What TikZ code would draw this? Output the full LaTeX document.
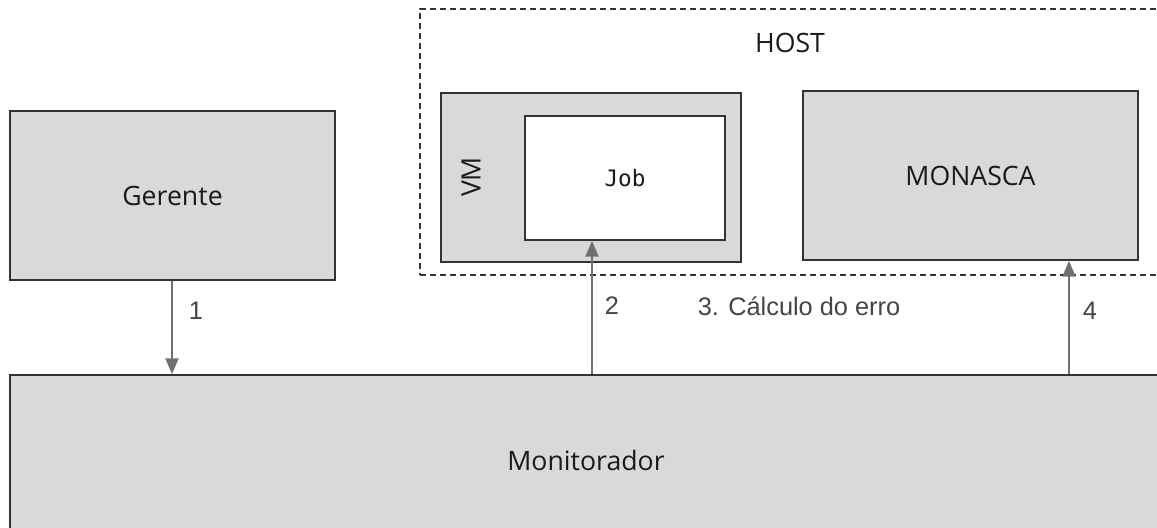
\documentclass[tikz,border=0pt]{standalone}
\usepackage{fontspec}
\setmainfont{Open Sans}
\newfontfamily\labelfont{Liberation Sans}
\newfontfamily\codefont{DejaVu Sans Mono}
\usetikzlibrary{arrows.meta}

\definecolor{boxfill}{HTML}{D9D9D9}
\definecolor{boxline}{HTML}{333333}
\definecolor{flowgray}{HTML}{707070}
\definecolor{labelgray}{HTML}{444444}
\definecolor{boxtext}{HTML}{1A1A1A}

\begin{document}
\begin{tikzpicture}[
  x=0.75pt, y=-0.75pt,
  box/.style={draw=boxline, fill=boxfill, line width=1pt, inner sep=0pt,
              text=boxtext, font=\fontsize{20}{24}\selectfont},
  hostbox/.style={draw=boxline, line width=0.8pt, dash pattern=on 4.5pt off 3pt, inner sep=0pt},
  title/.style={text=boxtext, font=\fontsize{20}{24}\selectfont},
  flow/.style={draw=flowgray, line width=2.2pt,
               -{Triangle[length=12pt,width=9.5pt]}},
  steplabel/.style={text=labelgray, font=\labelfont\fontsize{19}{23}\selectfont}
]
\useasboundingbox (0,0) rectangle (1157,528);
\clip (0,0) rectangle (1157,528);

% host boundary (dashed) and its title
\node[hostbox, minimum width=562.5pt, minimum height=199.5pt] (host) at (795,142) {};
\node[title] (hosttitle) at (790,43) {HOST};

% manager and monitor
\node[box, minimum width=243.75pt, minimum height=126.75pt] (gerente) at (172.5,195.5) {Gerente};
\node[box, minimum width=864pt, minimum height=127.5pt] (monitor) at (586,460) {Monitorador};

% virtual machine with the job inside
\node[box, minimum width=225pt, minimum height=126.75pt] (vm) at (591,177.5) {};
\node[title, rotate=90] (vmtitle) at (471,177) {VM};
\node[box, fill=white, minimum width=150pt, minimum height=93pt,
      font=\codefont\fontsize{17}{21}\selectfont] (job) at (625,178) {Job};

% monitoring service
\node[box, minimum width=251.25pt, minimum height=126.75pt] (monasca) at (970.5,175.5) {MONASCA};

% connectors
\coordinate (x1) at (172,0);
\coordinate (x2) at (592,0);
\coordinate (x4) at (1069,0);
\draw[flow] (x1 |- gerente.south) -- (x1 |- monitor.north);
\draw[flow] (x2 |- monitor.north) -- (x2 |- job.south);
\draw[flow] (x4 |- monitor.north) -- (x4 |- monasca.south);

% step labels
\node[steplabel] (l1) at (196,311) {1};
\node[steplabel] (l2) at (612,306) {2};
\node[steplabel] (l3) at (799,306) {3. Cálculo do erro};
\node[steplabel] (l4) at (1090,311) {4};
\end{tikzpicture}
\end{document}
